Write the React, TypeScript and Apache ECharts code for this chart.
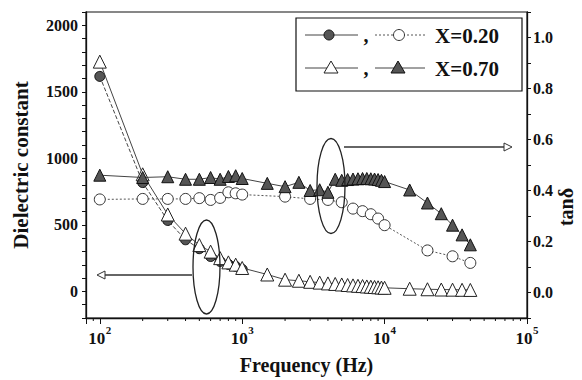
import React, { useEffect, useRef } from 'react';
import * as echarts from 'echarts';

const FONT = '"Liberation Serif", "Times New Roman", serif';

// Dielectric constant, X=0.20 (filled circles, left axis)
const epsX020Freq = [100, 200, 300, 400, 500, 600, 700, 800, 900, 1000];
const epsX020 = [1616, 818, 533, 388, 321, 262, 225, 203, 188, 166];

// Dielectric constant, X=0.70 (open triangles, left axis)
const epsX070Freq = [100, 200, 300, 400, 500, 600, 700, 800, 900, 1000, 1500, 2000, 2500, 3000, 3500, 4000, 4500, 5000, 5500, 6000, 6500, 7000, 7500, 8000, 8500, 9000, 9500, 10000, 15000, 20000, 25000, 30000, 35000, 40000];
const epsX070 = [1727, 880, 578, 434, 348, 299, 250, 218, 201, 176, 127, 88, 80, 72, 66, 60, 56, 52, 48, 45, 42, 40, 37, 35, 33, 31, 29, 27, 20, 16, 14, 13, 12, 11];

// tan delta, X=0.20 (open circles, right axis)
const tanX020Freq = [100, 200, 300, 400, 500, 600, 700, 800, 900, 1000, 2000, 3000, 4000, 5000, 6000, 7000, 8000, 9000, 10000, 20000, 30000, 40000];
const tanX020 = [0.365, 0.367, 0.367, 0.367, 0.37, 0.363, 0.371, 0.393, 0.389, 0.384, 0.376, 0.367, 0.363, 0.354, 0.329, 0.319, 0.307, 0.29, 0.264, 0.165, 0.142, 0.116];

// tan delta, X=0.70 (filled triangles, right axis)
const tanX070Freq = epsX070Freq;
const tanX070 = [0.46, 0.451, 0.454, 0.444, 0.444, 0.451, 0.444, 0.455, 0.458, 0.447, 0.428, 0.415, 0.432, 0.4, 0.403, 0.393, 0.444, 0.44, 0.443, 0.445, 0.446, 0.447, 0.447, 0.446, 0.445, 0.443, 0.44, 0.435, 0.402, 0.351, 0.309, 0.264, 0.226, 0.187];

// tick positions / labels on the frequency axis
const xDecades = [100, 1000, 10000, 100000];
const xDecadeExp = ['2', '3', '4', '5'];
const xMinorTicks = [90, 200, 300, 400, 500, 600, 700, 800, 900, 2000, 3000, 4000, 5000, 6000, 7000, 8000, 9000, 20000, 30000, 40000, 50000, 60000, 70000, 80000, 90000];

const pair = (f: number[], v: number[]) => f.map((x, i) => [x, v[i]]);

const INK = '#111';

export default function App() {
  const ref = useRef<HTMLDivElement>(null);
  useEffect(() => {
    document.body.style.margin = '0';
    const chart = echarts.init(ref.current!, null, { renderer: 'svg' });
    const boldText = { fontFamily: FONT, fontWeight: 'bold' as const, color: INK };
    const option: any = {
      animation: false,
      backgroundColor: '#fff',
      grid: { left: 86, right: 55, top: 12, bottom: 57, show: true, borderColor: INK, borderWidth: 1.2, backgroundColor: 'transparent' },
      xAxis: {
        type: 'log', logBase: 10, min: 80, max: 100000,
        axisLine: { onZero: false, lineStyle: { color: INK, width: 1.3 } },
        axisTick: { length: 6, lineStyle: { color: INK, width: 1 } },
        splitLine: { show: false },
        axisLabel: { show: false },
        name: 'Frequency (Hz)', nameLocation: 'middle', nameGap: 37,
        nameTextStyle: { ...boldText, fontSize: 20 },
      },
      yAxis: [
        {
          type: 'value', min: -200, max: 2100, interval: 100,
          axisLine: { show: true, lineStyle: { color: INK, width: 1.3 } },
          axisTick: { show: true, length: 4, lineStyle: { color: INK } },
          splitLine: { show: false },
          axisLabel: { ...boldText, fontSize: 16, margin: 8, formatter: (v: number) => (v % 500 === 0 ? String(v) : '') },
          name: 'Dielectric constant', nameLocation: 'middle', nameGap: 55, nameRotate: 90,
          nameTextStyle: { ...boldText, fontSize: 21 },
        },
        {
          type: 'value', position: 'right', min: -0.1, max: 1.1, interval: 0.1,
          axisLine: { show: true, lineStyle: { color: INK, width: 1.3 } },
          axisTick: { show: true, length: 4, lineStyle: { color: INK } },
          splitLine: { show: false },
          axisLabel: {
            ...boldText, fontSize: 16, margin: 6,
            formatter: (v: number) => {
              const n = Math.round(v * 10);
              return n % 2 === 0 && n >= 0 ? (n / 10).toFixed(1) : '';
            },
          },
        },
      ],
      series: [
        {
          type: 'custom', xAxisIndex: 0, yAxisIndex: 0, silent: true, clip: false, z: 5,
          data: xMinorTicks.map((f) => [f, -200]),
          renderItem: (_p: any, api: any) => {
            const p = api.coord([api.value(0), api.value(1)]);
            return { type: 'line', shape: { x1: p[0], y1: p[1], x2: p[0], y2: p[1] + 3 }, style: { stroke: INK, lineWidth: 1 } };
          },
        },
        {
          type: 'custom', xAxisIndex: 0, yAxisIndex: 0, silent: true, clip: false, z: 5,
          data: xDecades.map((f, i) => [f, -200, i]),
          renderItem: (_p: any, api: any) => {
            const p = api.coord([api.value(0), api.value(1)]);
            const exp = xDecadeExp[api.value(2)];
            return {
              type: 'group',
              children: [
                { type: 'text', x: p[0] - 3, y: p[1] + 20, style: { text: '10', font: 'bold 17px "Liberation Serif", serif', fill: INK, align: 'center', verticalAlign: 'middle' } },
                { type: 'text', x: p[0] + 6, y: p[1] + 12, style: { text: exp, font: 'bold 11px "Liberation Serif", serif', fill: INK, align: 'left', verticalAlign: 'middle' } },
              ],
            };
          },
        },
        {
          name: 'eps X=0.20', type: 'line', yAxisIndex: 0, data: pair(epsX020Freq, epsX020),
          symbol: 'circle', symbolSize: 10,
          itemStyle: { color: '#555', borderColor: '#111', borderWidth: 1 },
          lineStyle: { color: '#444', width: 1, type: [4, 2] }, z: 2,
        },
        {
          name: 'eps X=0.70', type: 'line', yAxisIndex: 0, data: pair(epsX070Freq, epsX070),
          symbol: 'triangle', symbolSize: 13,
          itemStyle: { color: '#fff', borderColor: '#222', borderWidth: 1 },
          lineStyle: { color: '#444', width: 1 }, z: 3,
        },
        {
          name: 'tan X=0.20', type: 'line', yAxisIndex: 1, data: pair(tanX020Freq, tanX020),
          symbol: 'circle', symbolSize: 11,
          itemStyle: { color: '#fff', borderColor: '#333', borderWidth: 1 },
          lineStyle: { color: '#555', width: 1, type: [2, 2] }, z: 3,
        },
        {
          name: 'tan X=0.70', type: 'line', yAxisIndex: 1, data: pair(tanX070Freq, tanX070),
          symbol: 'triangle', symbolSize: 12,
          itemStyle: { color: '#555', borderColor: '#111', borderWidth: 1 },
          lineStyle: { color: '#444', width: 1 }, z: 4,
        },
      ],
      graphic: [
        // annotations
        { type: 'ellipse', shape: { cx: 206.5, cy: 267, rx: 13.5, ry: 47 }, style: { fill: 'none', stroke: '#222', lineWidth: 1.3 }, z: 10 },
        { type: 'line', shape: { x1: 192, y1: 275, x2: 103, y2: 275 }, style: { stroke: '#333', lineWidth: 1.5 }, z: 10 },
        { type: 'polygon', shape: { points: [[97, 275], [105, 271], [105, 279]] }, style: { fill: '#fff', stroke: '#333', lineWidth: 1 }, z: 10 },
        { type: 'ellipse', shape: { cx: 331, cy: 186, rx: 14, ry: 47.5 }, style: { fill: 'none', stroke: '#222', lineWidth: 1.3 }, z: 10 },
        { type: 'line', shape: { x1: 344, y1: 147, x2: 506, y2: 147 }, style: { stroke: '#333', lineWidth: 1.5 }, z: 10 },
        { type: 'polygon', shape: { points: [[512, 147], [504, 143], [504, 151]] }, style: { fill: '#fff', stroke: '#333', lineWidth: 1 }, z: 10 },
        // right axis title
        { type: 'text', x: 566, y: 207, rotation: Math.PI / 2, style: { text: 'tanδ', fontSize: 20, fontWeight: 'bold', fontFamily: FONT, fill: INK, align: 'center', verticalAlign: 'middle' }, z: 10 },
        // legend
        { type: 'rect', shape: { x: 296, y: 18, width: 226, height: 73 }, style: { fill: '#fff', stroke: INK, lineWidth: 1.2 }, z: 20 },
        { type: 'line', shape: { x1: 305, y1: 35, x2: 358, y2: 35 }, style: { stroke: '#444', lineWidth: 1 }, z: 21 },
        { type: 'circle', shape: { cx: 329, cy: 35, r: 5 }, style: { fill: '#555', stroke: '#111', lineWidth: 1 }, z: 22 },
        { type: 'text', x: 366, y: 35, style: { text: ',', fontSize: 20, fontWeight: 'bold', fontFamily: FONT, fill: INK, align: 'center', verticalAlign: 'middle' }, z: 22 },
        { type: 'line', shape: { x1: 375, y1: 35, x2: 425, y2: 35 }, style: { stroke: '#555', lineWidth: 1, lineDash: [2, 2] }, z: 21 },
        { type: 'circle', shape: { cx: 399, cy: 35, r: 5.5 }, style: { fill: '#fff', stroke: '#333', lineWidth: 1 }, z: 22 },
        { type: 'text', x: 435, y: 36, style: { text: 'X=0.20', fontSize: 21, fontWeight: 'bold', fontFamily: FONT, fill: INK, align: 'left', verticalAlign: 'middle' }, z: 22 },
        { type: 'line', shape: { x1: 305, y1: 68, x2: 358, y2: 68 }, style: { stroke: '#444', lineWidth: 1 }, z: 21 },
        { type: 'polygon', shape: { points: [[331, 61], [324, 73], [338, 73]] }, style: { fill: '#fff', stroke: '#222', lineWidth: 1 }, z: 22 },
        { type: 'text', x: 366, y: 68, style: { text: ',', fontSize: 20, fontWeight: 'bold', fontFamily: FONT, fill: INK, align: 'center', verticalAlign: 'middle' }, z: 22 },
        { type: 'line', shape: { x1: 375, y1: 68, x2: 425, y2: 68 }, style: { stroke: '#444', lineWidth: 1 }, z: 21 },
        { type: 'polygon', shape: { points: [[398, 61], [391, 73], [405, 73]] }, style: { fill: '#555', stroke: '#111', lineWidth: 1 }, z: 22 },
        { type: 'text', x: 435, y: 69, style: { text: 'X=0.70', fontSize: 21, fontWeight: 'bold', fontFamily: FONT, fill: INK, align: 'left', verticalAlign: 'middle' }, z: 22 },
      ],
    };
    chart.setOption(option);
    return () => chart.dispose();
  }, []);
  return <div ref={ref} style={{ width: 582, height: 380, background: '#fff' }} />;
}
